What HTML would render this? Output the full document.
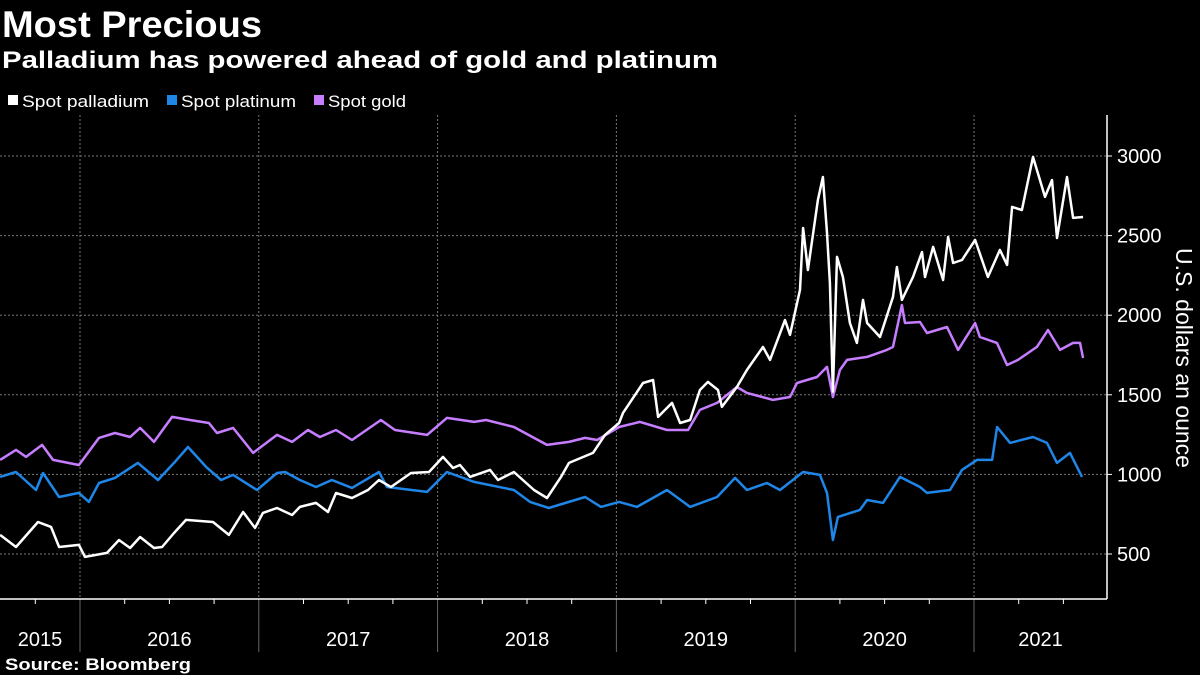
<!DOCTYPE html>
<html><head><meta charset="utf-8"><style>
html,body{margin:0;padding:0;background:#000;}
svg{display:block;font-family:"Liberation Sans",sans-serif;}
</style></head><body>
<svg id="chart" width="1200" height="675" viewBox="0 0 1200 675" xmlns="http://www.w3.org/2000/svg">
<rect width="1200" height="675" fill="#000"/>
<text x="2" y="37" fill="#fff" font-size="37" font-weight="bold" textLength="260" lengthAdjust="spacingAndGlyphs">Most Precious</text>
<text x="2" y="68" fill="#fff" font-size="24" font-weight="bold" textLength="716" lengthAdjust="spacingAndGlyphs">Palladium has powered ahead of gold and platinum</text>
<g font-size="17" fill="#fff">
 <g><rect x="8" y="95" width="10" height="10" fill="#fff"/><text x="22" y="107" textLength="127" lengthAdjust="spacingAndGlyphs">Spot palladium</text></g>
 <g><rect x="167" y="95" width="10" height="10" fill="#1f86e8"/><text x="181" y="107" textLength="115" lengthAdjust="spacingAndGlyphs">Spot platinum</text></g>
 <g><rect x="314" y="95" width="10" height="10" fill="#c77dff"/><text x="328" y="107" textLength="78" lengthAdjust="spacingAndGlyphs">Spot gold</text></g>
</g>
<g id="grid"></g>
<g id="series"></g>
<g id="axes"></g>
<text transform="translate(1176,358) rotate(90)" text-anchor="middle" fill="#fff" font-size="23">U.S. dollars an ounce</text>
<text x="5" y="670" fill="#fff" font-size="17" font-weight="bold" textLength="186" lengthAdjust="spacingAndGlyphs">Source: Bloomberg</text>
</svg>
<script>
const yTicks=[500,1000,1500,2000,2500,3000];
const years=[2015,2016,2017,2018,2019,2020,2021];
const palDates=[2015.553,2015.642,2015.765,2015.838,2015.883,2015.994,2016.028,2016.151,2016.218,2016.280,2016.336,2016.414,2016.459,2016.526,2016.593,2016.744,2016.833,2016.912,2016.979,2017.023,2017.102,2017.186,2017.230,2017.320,2017.387,2017.432,2017.521,2017.611,2017.672,2017.739,2017.851,2017.952,2018.030,2018.086,2018.125,2018.181,2018.293,2018.338,2018.427,2018.539,2018.612,2018.690,2018.735,2018.869,2018.936,2019.015,2019.037,2019.149,2019.205,2019.233,2019.311,2019.356,2019.412,2019.467,2019.512,2019.568,2019.590,2019.674,2019.730,2019.820,2019.859,2019.943,2019.971,2020.027,2020.044,2020.071,2020.127,2020.155,2020.178,2020.194,2020.211,2020.234,2020.267,2020.306,2020.345,2020.379,2020.402,2020.474,2020.547,2020.569,2020.597,2020.659,2020.709,2020.726,2020.771,2020.827,2020.855,2020.883,2020.933,2021.006,2021.078,2021.145,2021.185,2021.213,2021.268,2021.330,2021.397,2021.436,2021.464,2021.520,2021.554,2021.610];
const palValues=[620,544,701,670,544,557,482,507,588,538,607,538,544,632,714,701,620,764,664,758,789,745,796,821,764,883,852,902,965,921,1009,1015,1110,1040,1059,984,1028,965,1015,902,852,984,1072,1135,1248,1323,1386,1574,1593,1361,1449,1323,1342,1530,1581,1530,1424,1549,1656,1800,1719,1970,1876,2159,2548,2284,2724,2868,2517,2202,1520,2366,2240,1951,1826,2096,1951,1863,2115,2303,2096,2240,2397,2240,2429,2221,2491,2328,2347,2473,2240,2410,2316,2680,2661,2994,2743,2849,2485,2868,2611,2617];
const goldDates=[2015.553,2015.642,2015.698,2015.788,2015.849,2015.994,2016.106,2016.196,2016.280,2016.336,2016.414,2016.515,2016.615,2016.721,2016.766,2016.856,2016.968,2017.102,2017.186,2017.275,2017.342,2017.432,2017.521,2017.683,2017.762,2017.941,2018.052,2018.204,2018.271,2018.427,2018.612,2018.735,2018.825,2018.892,2019.015,2019.132,2019.283,2019.401,2019.467,2019.563,2019.674,2019.730,2019.876,2019.971,2020.010,2020.122,2020.178,2020.211,2020.250,2020.290,2020.402,2020.513,2020.547,2020.597,2020.614,2020.698,2020.737,2020.849,2020.911,2021.006,2021.033,2021.128,2021.185,2021.246,2021.352,2021.414,2021.481,2021.554,2021.593,2021.610];
const goldValues=[1091,1154,1110,1185,1091,1059,1229,1260,1235,1292,1204,1361,1342,1323,1260,1292,1135,1248,1204,1279,1235,1279,1216,1342,1279,1248,1355,1330,1342,1298,1185,1204,1229,1216,1298,1330,1279,1279,1405,1449,1549,1512,1468,1486,1574,1612,1675,1486,1656,1719,1738,1782,1801,2064,1951,1957,1888,1926,1782,1951,1863,1826,1687,1719,1801,1907,1782,1826,1826,1731];
const platDates=[2015.553,2015.642,2015.754,2015.793,2015.883,2015.994,2016.050,2016.106,2016.196,2016.324,2016.436,2016.526,2016.604,2016.705,2016.789,2016.856,2016.990,2017.102,2017.147,2017.230,2017.320,2017.409,2017.521,2017.672,2017.717,2017.941,2018.052,2018.204,2018.427,2018.517,2018.622,2018.825,2018.914,2019.015,2019.115,2019.283,2019.412,2019.563,2019.664,2019.730,2019.842,2019.915,2020.044,2020.138,2020.178,2020.211,2020.239,2020.362,2020.402,2020.491,2020.586,2020.698,2020.737,2020.866,2020.933,2021.017,2021.101,2021.129,2021.202,2021.330,2021.408,2021.464,2021.537,2021.576,2021.604];
const platValues=[984,1015,902,1009,858,884,827,946,978,1072,965,1072,1172,1047,965,997,902,1009,1015,965,921,965,915,1015,921,890,1015,953,902,827,789,858,796,827,796,902,796,858,978,902,946,902,1015,997,884,588,733,777,839,821,984,921,884,902,1028,1091,1091,1298,1198,1235,1198,1072,1135,1047,984];

const NS="http://www.w3.org/2000/svg";
const X0=80, PXY=178.8, Y0=156, PXV=0.1592, AXX=1107, AXY=599, TOP=115;
function xScale(d){return X0+(d-2016)*PXY;}
function yScale(v){return Y0+(3000-v)*PXV;}
function mk(tag,attrs,parent){const e=document.createElementNS(NS,tag);for(const k in attrs)e.setAttribute(k,attrs[k]);parent.appendChild(e);return e;}
const grid=document.getElementById('grid'),axes=document.getElementById('axes'),series=document.getElementById('series');
yTicks.forEach(v=>{
  const y=yScale(v);
  const gl=mk('line',{x1:0,x2:AXX,y1:y,y2:y,stroke:'#777','stroke-width':1,'stroke-dasharray':'2,2'},grid);
  
  
  mk('line',{x1:AXX,x2:AXX+5,y1:y,y2:y,stroke:'#fff','stroke-width':1},axes);
  const t=mk('text',{x:AXX+10,y:y+7,fill:'#fff','font-size':20},axes);
  t.textContent=v;
  
  
});
years.forEach(yr=>{
  const xs=xScale(yr), xe=Math.min(xScale(yr+1),AXX);
  if(yr>2015){
    const gl=mk('line',{x1:xs,x2:xs,y1:TOP,y2:AXY,stroke:'#777','stroke-width':1,'stroke-dasharray':'2,2'},grid);
    
    
    mk('line',{x1:xs,x2:xs,y1:AXY,y2:652,stroke:'#666','stroke-width':1},axes);
  }
  for(let q=1;q<4;q++){const xq=xScale(yr+q/4);if(xq>0&&xq<AXX)mk('line',{x1:xq,x2:xq,y1:AXY,y2:AXY+5,stroke:'#fff','stroke-width':1},axes);}
  const cx=(Math.max(xs,0)+xe)/2;
  const t=mk('text',{x:cx,y:646,fill:'#fff','font-size':20,'text-anchor':'middle'},axes);
  t.textContent=yr;
  
  
});
mk('line',{x1:0,x2:AXX,y1:AXY,y2:AXY,stroke:'#fff','stroke-width':1.5},axes);
mk('line',{x1:AXX,x2:AXX,y1:TOP,y2:AXY,stroke:'#fff','stroke-width':1.5},axes);
function drawLine(dates,vals,color,name){
  const d=dates.map((t,i)=>(i?'L':'M')+xScale(t).toFixed(1)+','+yScale(vals[i]).toFixed(1)).join('');
  const p=mk('path',{d:d,fill:'none',stroke:color,'stroke-width':2.5,'stroke-linejoin':'round'},series);
  
  
}
drawLine(goldDates,goldValues,'#c77dff','line-spot-gold');
drawLine(platDates,platValues,'#1f86e8','line-spot-platinum');
drawLine(palDates,palValues,'#ffffff','line-spot-palladium');
</script>
</body></html>
